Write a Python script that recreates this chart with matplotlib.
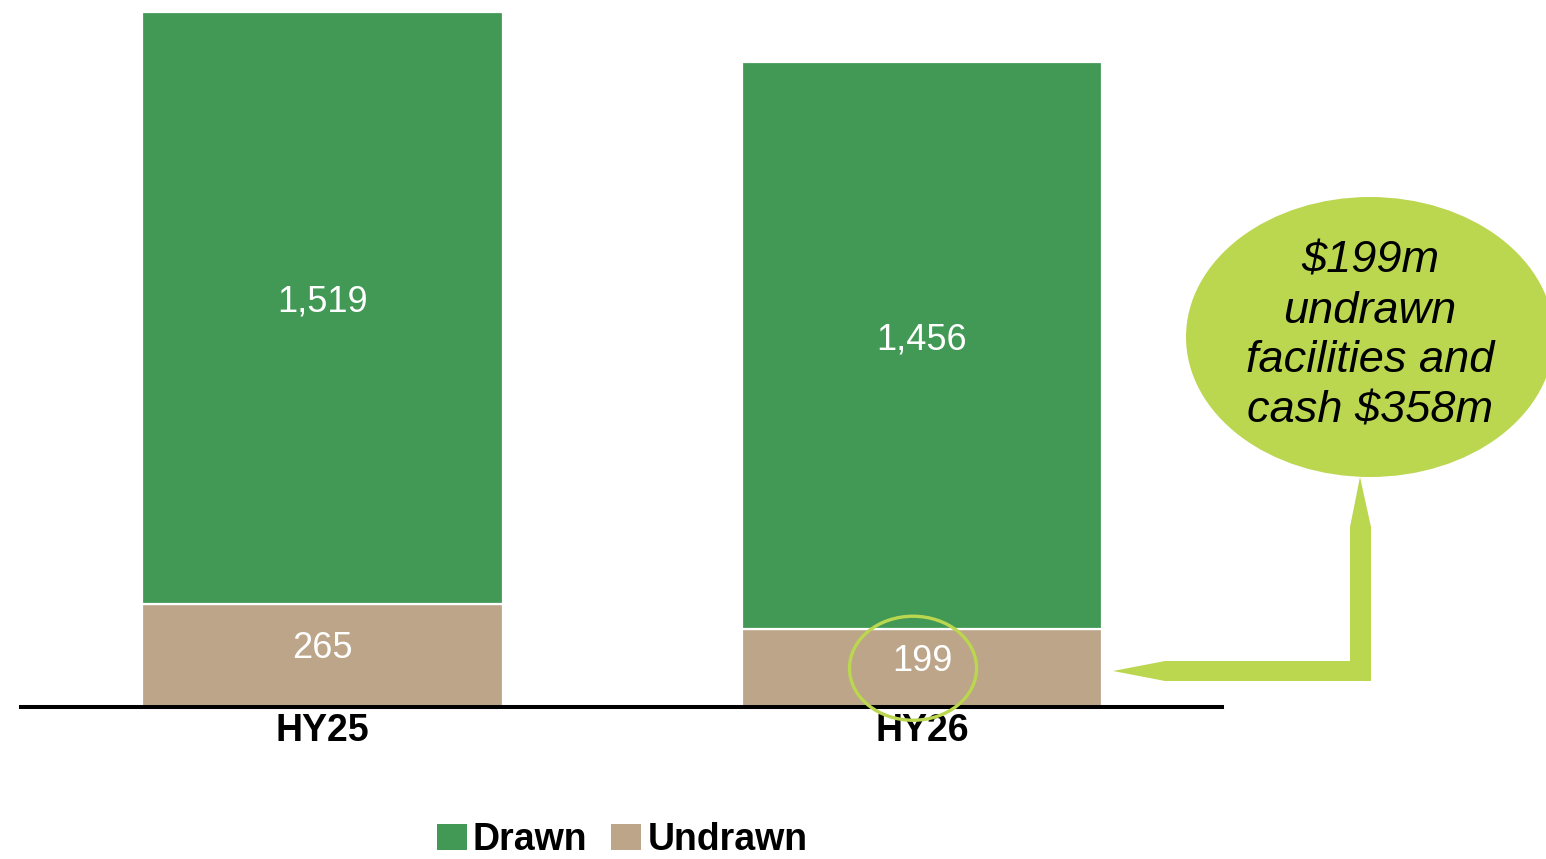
import matplotlib
matplotlib.use("Agg")
import matplotlib.pyplot as plt
from matplotlib.patches import Ellipse, Polygon, Patch

# ---- data ----
categories = ["HY25", "HY26"]
undrawn = [265, 199]
drawn = [1519, 1456]
series_names = ["Drawn", "Undrawn"]
callout_lines = ["$199m", "undrawn", "facilities and", "cash $358m"]

GREEN = "#429956"
TAN = "#BCA588"
LIME = "#BBD64F"

plt.rcParams['font.family'] = ['Liberation Sans', 'DejaVu Sans']

W, H = 1546, 859
fig = plt.figure(figsize=(W / 100, H / 100), dpi=100)

# main axes (pixel-based placement)
left_px, right_px, top_px, base_px = 21, 1222, 12, 707
ax = fig.add_axes([left_px / W, 1 - base_px / H, (right_px - left_px) / W, (base_px - top_px) / H])

x = list(range(len(categories)))
bw = 0.602
b1 = ax.bar(x, undrawn, width=bw, color=TAN, edgecolor="white", linewidth=1.6, zorder=2)
b2 = ax.bar(x, drawn, width=bw, bottom=undrawn, color=GREEN, edgecolor="white", linewidth=1.6, zorder=2)

for xi, u, d in zip(x, undrawn, drawn):
    ax.annotate(f"{u:,}", (xi, u / 2), xytext=(0, 5), textcoords="offset points",
                ha="center", va="center", color="white", fontsize=26, zorder=5)
    ax.annotate(f"{d:,}", (xi, u + d / 2), xytext=(0, 4), textcoords="offset points",
                ha="center", va="center", color="white", fontsize=26, zorder=5)

ax.set_xlim(-0.503, 1.5004)
ax.set_ylim(0, undrawn[0] + drawn[0])
ax.set_xticks(x)
ax.set_xticklabels(categories, fontsize=27, fontweight="bold")
ax.tick_params(axis="x", length=0, pad=4)
ax.set_yticks([])
for s in ["top", "right", "left"]:
    ax.spines[s].set_visible(False)
ax.spines["bottom"].set_linewidth(2.9)
ax.spines["bottom"].set_color("black")
ax.spines["bottom"].set_zorder(3)

# highlight ring around HY26 undrawn value
ring = Ellipse((x[1] - 0.015, undrawn[1] / 2), 0.212, 267, fill=False,
               edgecolor=LIME, linewidth=2.4, zorder=4, clip_on=False)
ax.add_patch(ring)

# overlay axes in pixel coordinates for callout
ov = fig.add_axes([0, 0, 1, 1])
ov.set_xlim(0, W)
ov.set_ylim(H, 0)
ov.axis("off")
ov.patch.set_alpha(0)

ov.add_patch(Ellipse((1370, 337), 368, 280, facecolor=LIME, edgecolor="none", zorder=1))
arrow_pts = [(1360, 477), (1371, 527), (1371, 681), (1165, 681), (1113, 671),
             (1165, 661), (1350, 661), (1350, 527)]
ov.add_patch(Polygon(arrow_pts, closed=True, facecolor=LIME, edgecolor="none", zorder=1))

ov.text(1370, 336, "\n".join(callout_lines), ha="center", va="center",
        fontsize=32.5, fontstyle="italic", color="black", linespacing=1.28, zorder=2)

# legend
handles = [Patch(facecolor=GREEN, edgecolor="none"), Patch(facecolor=TAN, edgecolor="none")]
leg = fig.legend(handles, series_names, loc="center", bbox_to_anchor=(622 / W, 1 - 840 / H),
                 ncol=2, frameon=False, handlelength=0.8, handleheight=0.7,
                 handletextpad=0.16, columnspacing=0.64, borderpad=0,
                 prop={"size": 27, "weight": "bold"})

fig.savefig("out.png", dpi=100)
